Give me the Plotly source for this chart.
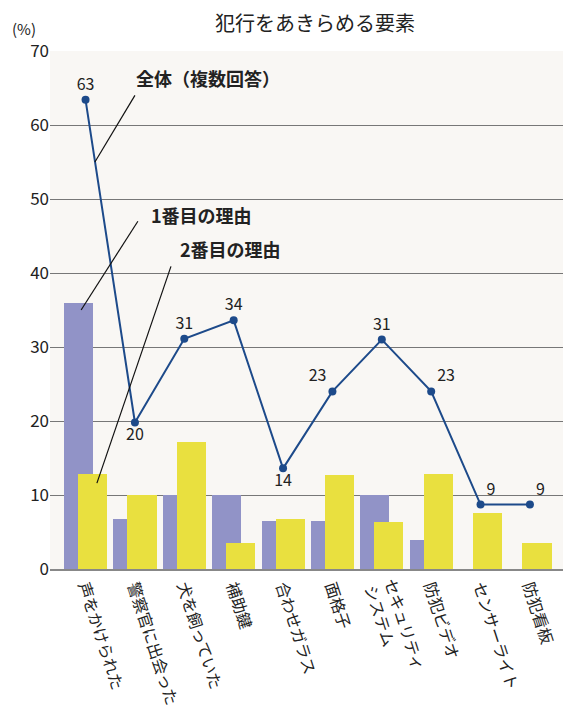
import plotly.graph_objects as go

categories = ["声をかけられた", "警察官に出会った", "犬を飼っていた", "補助鍵", "合わせガラス",
              "面格子", "セキュリティ<br>システム", "防犯ビデオ", "センサーライト", "防犯看板"]
first_reason = [36.0, 6.8, 10.0, 10.0, 6.5, 6.5, 10.0, 3.9, 0, 0]
second_reason = [12.8, 10.0, 17.2, 3.5, 6.8, 12.7, 6.3, 12.9, 7.6, 3.5]
total = [63.4, 19.8, 31.1, 33.6, 13.6, 24.0, 31.0, 24.0, 8.7, 8.7]
total_labels = ["63", "20", "31", "34", "14", "23", "31", "23", "9", "9"]
label_pos = ["top center", "bottom center", "top center", "top center", "bottom center",
             "top left", "top center", "top right", "top right", "top right"]

FONT = "Noto Sans CJK JP"
x = list(range(len(categories)))

fig = go.Figure()
fig.add_trace(go.Bar(x=x, y=first_reason, width=0.59, offset=-0.435,
                     marker=dict(color="#9193c7", line_width=0), name="1番目の理由"))
fig.add_trace(go.Bar(x=x, y=second_reason, width=0.59, offset=-0.152,
                     marker=dict(color="#e9e03f", line_width=0), name="2番目の理由"))
fig.add_trace(go.Scatter(x=x, y=total, mode="lines+markers+text",
                         text=total_labels, textposition=label_pos,
                         textfont=dict(size=16, color="#222", family=FONT),
                         line=dict(color="#1d4a8a", width=2),
                         marker=dict(color="#1d4a8a", size=8),
                         name="全体（複数回答）", cliponaxis=False))

# callout labels with leader lines
callouts = [
    ("全体（複数回答）", 1.0, 64.0, 0.19, 55.0, 2.47, 66.4),
    ("1番目の理由", 1.06, 47.0, -0.09, 35.0, 2.35, 47.9),
    ("2番目の理由", 1.73, 40.9, 0.23, 11.6, 2.93, 43.2),
]
for text, x0, y0, x1, y1, tx, ty in callouts:
    fig.add_shape(type="line", x0=x0, y0=y0, x1=x1, y1=y1,
                  line=dict(color="#111", width=1.2), layer="above")
    fig.add_annotation(x=tx, y=ty, text=f"<b>{text}</b>", showarrow=False,
                       font=dict(size=18, color="#222", family=FONT))

fig.add_annotation(x=0.0, y=1.0, xref="paper", yref="paper", xanchor="right",
                   yanchor="middle", xshift=-12, yshift=23, text="(%)", showarrow=False,
                   font=dict(size=15, color="#222", family=FONT))
fig.add_annotation(x=0.516, y=1.0, xref="paper", yref="paper", xanchor="center",
                   yanchor="middle", yshift=29, text="犯行をあきらめる要素", showarrow=False,
                   font=dict(size=20, color="#222", family=FONT))

# page body adds an 8px margin, so the figure is sized to fit inside the window
fig.update_layout(
    width=572, height=699,
    margin=dict(l=42, r=17, t=43, b=138),
    paper_bgcolor="white", plot_bgcolor="#f9f7f4",
    barmode="overlay", showlegend=False,
    font=dict(family=FONT, color="#222"),
    bargap=0,
)
fig.update_xaxes(tickvals=x, ticktext=categories, tickangle=72,
                 range=[-0.72, 9.67], showgrid=False, zeroline=False,
                 showline=True, linecolor="#888", linewidth=1.5, automargin=False,
                 tickfont=dict(size=16, color="#222", family=FONT), ticks="")
fig.update_yaxes(range=[0, 70], dtick=10, showgrid=True, gridcolor="#777", gridwidth=1,
                 zeroline=False, ticks="", automargin=False,
                 tickfont=dict(size=17, color="#222", family=FONT))

fig.write_html("out.html")
